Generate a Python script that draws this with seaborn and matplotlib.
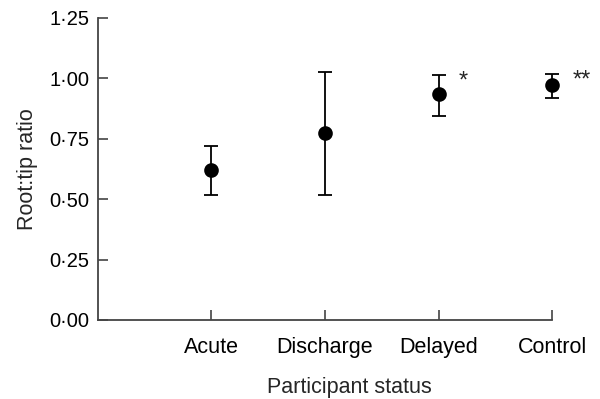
import pandas as pd
import matplotlib
matplotlib.use("Agg")
import matplotlib.pyplot as plt
from matplotlib.ticker import FuncFormatter
import seaborn as sns

# valores
status = ["Acute", "Discharge", "Delayed", "Control"]
ratio = [0.62, 0.773, 0.932, 0.970]
lower = [0.516, 0.515, 0.844, 0.917]
upper = [0.719, 1.026, 1.014, 1.018]
stars = ["", "", "*", "**"]

df = pd.DataFrame({"status": status, "ratio": ratio, "lower": lower, "upper": upper})

sns.set_style("ticks")
plt.rcParams["font.family"] = ["Liberation Sans", "DejaVu Sans"]

fig = plt.figure(figsize=(6, 3.99), dpi=100)
ax = fig.add_axes([0.163, 0.198, 0.837, 0.758])

yerr = [df["ratio"] - df["lower"], df["upper"] - df["ratio"]]
ax.errorbar(range(len(df)), df["ratio"], yerr=yerr, fmt="none", ecolor="black",
            elinewidth=1.3, capsize=4.7, capthick=1.3, clip_on=False, zorder=2)
sns.pointplot(data=df, x="status", y="ratio", order=status, linestyle="none",
              color="black", markers="o", markersize=8.5, errorbar=None, ax=ax, zorder=3)

for i, s in enumerate(stars):
    if s:
        ax.text(i + 0.18, df["upper"][i] - 0.03, s, ha="left", va="center", fontsize=17)

ax.set_xlim(-1, 3.42)
ax.set_ylim(0, 1.25)
ax.set_yticks([0, 0.25, 0.5, 0.75, 1.0, 1.25])
ax.yaxis.set_major_formatter(FuncFormatter(lambda v, p: f"{v:.2f}".replace(".", "\u00b7")))
ax.tick_params(axis="both", direction="in", length=7, width=1.2, color="#444444",
               labelsize=14.5, labelcolor="black")
ax.tick_params(axis="x", pad=12, labelsize=15.5)
ax.tick_params(axis="y", pad=6)

for side in ["top", "right"]:
    ax.spines[side].set_visible(False)
for side in ["left", "bottom"]:
    ax.spines[side].set_color("#444444")
    ax.spines[side].set_linewidth(1.3)
ax.spines["bottom"].set_bounds(-1, 3)

ax.set_xlabel("Participant status", fontsize=15.5, labelpad=14)
ax.set_ylabel("Root:tip ratio", fontsize=15.5, labelpad=8)

plt.savefig("out.png", dpi=100)
